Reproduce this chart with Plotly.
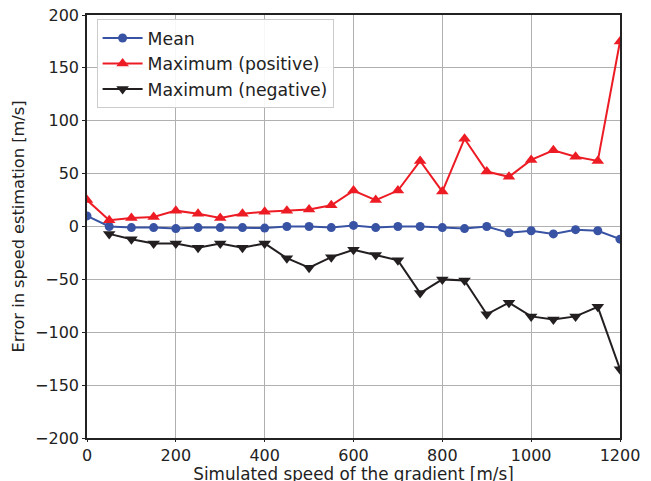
import plotly.graph_objects as go

speed = [0, 50, 100, 150, 200, 250, 300, 350, 400, 450, 500, 550, 600,
         650, 700, 750, 800, 850, 900, 950, 1000, 1050, 1100, 1150, 1200]

mean_err = [10, 0, -1, -1, -2, -1, -1, -1, -1.5, 0, 0, -1, 1,
            -1, 0, 0, -1, -2, 0, -6, -4, -7, -3, -4, -12]

max_pos = [25, 6, 8, 9, 15, 12, 8, 12, 14, 15, 16, 20, 34,
           25, 34, 62, 33, 83, 52, 47, 63, 72, 66, 62, 175]

speed_neg = speed[1:]
max_neg = [-7, -12, -16, -16, -20, -16, -20, -16, -30, -39, -29, -22,
           -27, -32, -63, -50, -51, -83, -72, -85, -88, -85, -76, -135]

font = "DejaVu Sans"
ink = "#222222"

fig = go.Figure()

fig.add_trace(go.Scatter(
    x=speed, y=mean_err, name="Mean", mode="lines+markers",
    line=dict(color="#3953a4", width=2),
    marker=dict(symbol="circle", size=9, color="#3953a4"),
))
fig.add_trace(go.Scatter(
    x=speed, y=max_pos, name="Maximum (positive)", mode="lines+markers",
    line=dict(color="#ed1c24", width=2),
    marker=dict(symbol="triangle-up", size=11, color="#ed1c24"),
))
fig.add_trace(go.Scatter(
    x=speed_neg, y=max_neg, name="Maximum (negative)", mode="lines+markers",
    line=dict(color="#231f20", width=2),
    marker=dict(symbol="triangle-down", size=11, color="#231f20"),
))

axis_common = dict(
    showgrid=True, gridcolor="#b0b0b0", gridwidth=1,
    showline=True, linecolor=ink, linewidth=1.5, mirror=True,
    ticks="outside", tickcolor=ink,
    tickfont=dict(family=font, size=16, color=ink),
    zeroline=False, automargin=False, ticklabeloverflow="allow",
)

fig.update_xaxes(
    range=[0, 1200], dtick=200, ticklen=2,
    title=dict(text="Simulated speed of the gradient [m/s]",
               font=dict(family=font, size=16.8, color=ink), standoff=18),
    **axis_common,
)
fig.update_yaxes(
    range=[-200, 200], dtick=50, ticklen=3,
    title=dict(text="Error in speed estimation [m/s]",
               font=dict(family=font, size=16.2, color=ink), standoff=6),
    **axis_common,
)

# page body adds an 8px offset; title is held inside the bottom margin
fig.update_layout(
    width=643, height=476,
    margin=dict(l=79, r=31, t=7, b=46),
    paper_bgcolor="white", plot_bgcolor="white",
    font=dict(family=font, size=16, color=ink),
    legend=dict(
        x=0.018, y=0.99, xanchor="left", yanchor="top",
        bgcolor="rgba(255,255,255,0.9)", bordercolor="#cccccc", borderwidth=1,
        font=dict(family=font, size=17.3, color=ink),
        itemwidth=40,
    ),
)

fig.write_html("out.html")
